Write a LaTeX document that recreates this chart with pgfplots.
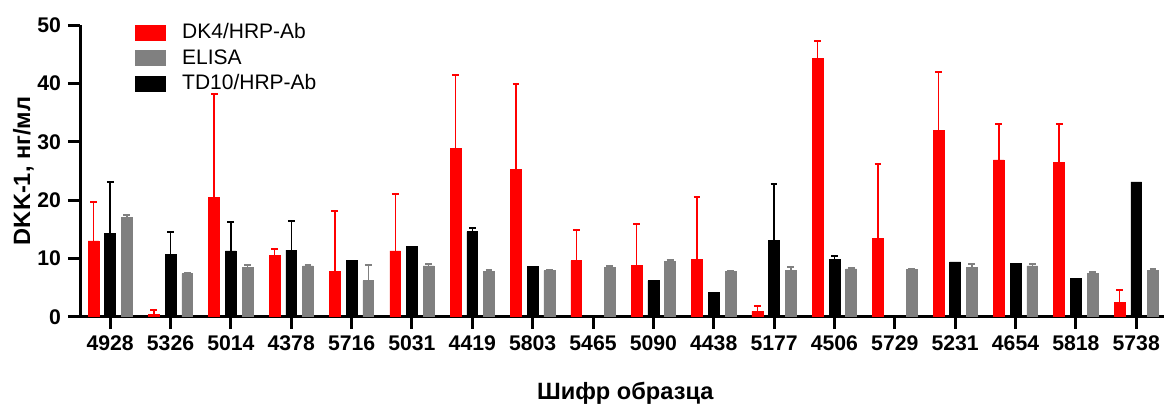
\documentclass[border=0pt]{standalone}
\usepackage{fontspec}
\setmainfont{Liberation Sans}
\usepackage{pgfplots}
\usepackage{pgfplotstable}
\pgfplotsset{compat=1.18}
\definecolor{barred}{RGB}{255,0,0}
\definecolor{bargray}{RGB}{128,128,128}
\pgfplotstableread{
x r re b be g ge
0 13.0 6.6 14.3 8.8 17.0 0.4
1 0.45 0.65 10.75 3.85 7.4 0.15
2 20.5 17.7 11.3 4.9 8.5 0.4
3 10.5 1.1 11.4 5.0 8.7 0.1
4 7.8 10.3 9.6 nan 6.2 2.6
5 11.3 9.7 12.1 nan 8.7 0.3
6 28.9 12.5 14.6 0.6 7.8 0.2
7 25.2 14.7 8.6 nan 7.9 0.15
8 9.6 5.2 nan nan 8.5 0.15
9 8.8 7.1 6.2 nan 9.55 0.15
10 9.85 10.75 4.1 nan 7.8 0.1
11 0.9 0.9 13.1 9.6 8.0 0.6
12 44.3 3.0 9.8 0.6 8.2 0.1
13 13.4 12.8 nan nan 8.1 0.1
14 32.0 10.0 9.4 nan 8.5 0.5
15 26.9 6.2 9.1 nan 8.7 0.3
16 26.4 6.7 6.6 nan 7.45 0.15
17 2.4 2.2 23.1 nan 8.0 0.2
}\data
\begin{document}
\begin{tikzpicture}
\begin{axis}[
 scale only axis, width=542pt, height=145.8pt,
 xmin=-0.5, xmax=17.46, ymin=0, ymax=50,
 axis x line*=bottom, axis y line*=left,
 axis line style={line width=1.5pt, -},
 ytick={0,10,...,50},
 xtick={0,...,17},
 xticklabels={4928,5326,5014,4378,5716,5031,4419,5803,5465,5090,4438,5177,4506,5729,5231,4654,5818,5738},
 tick align=outside,
 major tick length=6pt,
 tick style={line width=1.5pt, black},
 tick label style={font=\fontsize{10.6}{12}\selectfont\bfseries},
 /pgf/number format/assume math mode=true,
 xlabel={Шифр образца}, ylabel={DKK-1, нг/мл},
 label style={font=\fontsize{11.8}{14}\selectfont\bfseries},
 xlabel style={at={(axis description cs:0.503,-0.2826)}, anchor=base},
 ylabel style={at={(axis description cs:-0.0461,0.5)}, anchor=base},
 legend style={at={(axis description cs:0.05,1.01)}, anchor=north west, draw=none, fill=none,
   inner sep=0pt, font=\fontsize{10.5}{12}\selectfont,
   nodes={inner sep=0.5pt, text height=7.6pt, text depth=2pt}, row sep=2.1pt},
 legend cell align=left,
 legend image code/.code={\fill[#1] (0pt,-3.5pt) rectangle (15pt,4pt); \path (23pt,0pt);},
]
\addplot[ybar, bar width=0.18, bar shift=-0.277, fill=barred, draw=barred, line width=0.3pt] table[x=x, y=r]{\data};
\addplot[ybar, bar width=0.18, bar shift=0.277, fill=bargray, draw=bargray, line width=0.3pt] table[x=x, y=g]{\data};
\addplot[ybar, bar width=0.18, bar shift=0, fill=black, draw=black, line width=0.3pt] table[x=x, y=b]{\data};
\legend{DK4/HRP-Ab, ELISA, TD10/HRP-Ab}
\addplot[draw=none, mark=none, forget plot,
  error bars/.cd, y dir=plus, y explicit, error mark=|,
  error bar style={line width=0.7pt, color=barred},
  error mark options={color=barred, line width=1pt, mark size=1.7pt}] table[x expr=\thisrow{x}-0.277, y=r, y error=re]{\data};
\addplot[draw=none, mark=none, forget plot,
  error bars/.cd, y dir=plus, y explicit, error mark=|,
  error bar style={line width=0.7pt, color=bargray},
  error mark options={color=bargray, line width=1pt, mark size=1.7pt}] table[x expr=\thisrow{x}+0.277, y=g, y error=ge]{\data};
\addplot[draw=none, mark=none, forget plot,
  error bars/.cd, y dir=plus, y explicit, error mark=|,
  error bar style={line width=0.7pt, color=black},
  error mark options={color=black, line width=1pt, mark size=1.7pt}] table[x=x, y=b, y error=be]{\data};
\coordinate (ll) at (rel axis cs:0,0);
\end{axis}
\pgfresetboundingbox
\path[use as bounding box] ([xshift=-40pt, yshift=-43.15pt]ll) rectangle ++(582pt,201.5pt);
\end{tikzpicture}
\end{document}
